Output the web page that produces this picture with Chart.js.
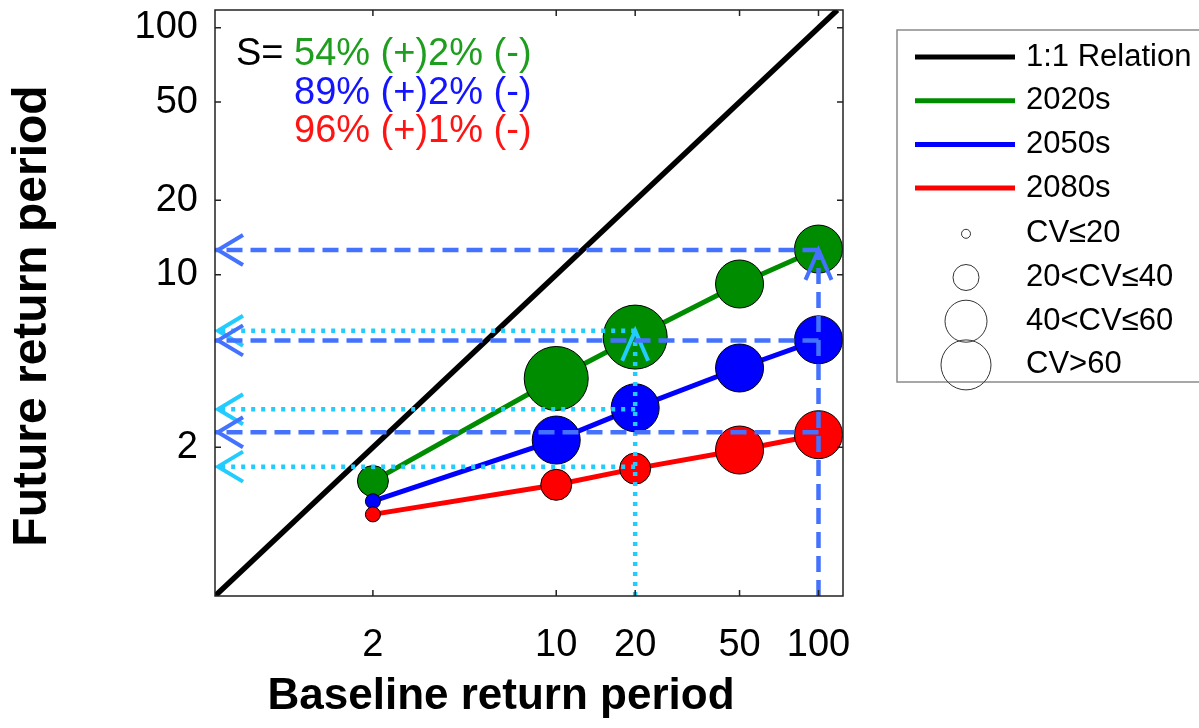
<!DOCTYPE html>
<html>
<head>
<meta charset="utf-8">
<script src="https://cdn.jsdelivr.net/npm/chart.js@4.4.1/dist/chart.umd.min.js"></script>
<style>
html, body { margin: 0; padding: 0; background: #fff; }
#wrap { width: 1199px; height: 728px; position: relative; }
</style>
</head>
<body>
<div id="wrap"><canvas id="rpChart" width="1199" height="728"></canvas></div>
<script>
// baseline return periods and future return periods per period
const baseline = [2, 10, 20, 50, 100];
const rp2020s = [1.46, 3.80, 5.59, 9.17, 12.7];
const rp2050s = [1.21, 2.14, 2.89, 4.19, 5.45];
const rp2080s = [1.07, 1.41, 1.64, 1.95, 2.25];

// CV class of each point: 0 = CV<=20, 1 = 20-40, 2 = 40-60, 3 = >60
const cv2020s = [1, 3, 3, 2, 2];
const cv2050s = [0, 2, 2, 2, 2];
const cv2080s = [0, 1, 1, 2, 2];

const oneToOne = [0.5, 118];

const guide20 = [5.93, 2.85, 1.67];
const guide100 = [12.6, 5.42, 2.30];

const tickVals = [0.6, 0.8, 1, 1.2, 1.4, 1.6, 1.8, 2, 4, 6, 8, 10, 20, 40, 50, 100];
const tickLabels = [2, 10, 20, 50, 100];

const sLabels = ['54% (+)2% (-)', '89% (+)2% (-)', '96% (+)1% (-)'];
const lineLabels = ['1:1 Relation', '2020s', '2050s', '2080s'];
const cvLabels = ['CV\u226420', '20<CV\u226440', '40<CV\u226460', 'CV>60'];

const FONT = '"Liberation Sans", Arial, sans-serif';
const colors = { one: '#000000', g: '#008c00', b: '#0000ff', r: '#ff0000' };
const textColors = ['#1e9e1e', '#1414ff', '#ff1414'];
const markerRadius = [7.5, 15.5, 24, 32];
const legendRadius = [4.5, 13, 21, 25];

function pts(ys) {
  return baseline.map((b, i) => ({ x: b, y: ys[i] }));
}

function seriesSet(label, ys, cv, color, order) {
  return {
    label: label,
    data: pts(ys),
    borderColor: color,
    backgroundColor: color,
    borderWidth: 5,
    pointRadius: ctx => markerRadius[cv[ctx.dataIndex]],
    pointBackgroundColor: color,
    pointBorderColor: '#000',
    pointBorderWidth: 1,
    order: order
  };
}

function drawGuide(ctx, xs, ys, area, xv, levels, color, dash) {
  const px = xs.getPixelForValue(xv);
  const tip = ys.getPixelForValue(levels[0]);
  ctx.save();
  ctx.strokeStyle = color;
  ctx.lineWidth = 4.5;
  ctx.setLineDash(dash);
  ctx.beginPath();
  ctx.moveTo(px, area.bottom);
  ctx.lineTo(px, tip);
  levels.forEach(v => {
    const py = ys.getPixelForValue(v);
    ctx.moveTo(px, py);
    ctx.lineTo(area.left, py);
  });
  ctx.stroke();
  ctx.setLineDash([]);
  ctx.lineWidth = 4;
  ctx.beginPath();
  ctx.moveTo(px - 13, tip + 30);
  ctx.lineTo(px, tip);
  ctx.lineTo(px + 13, tip + 30);
  levels.forEach(v => {
    const py = ys.getPixelForValue(v);
    ctx.moveTo(area.left + 28, py - 15);
    ctx.lineTo(area.left + 3, py);
    ctx.lineTo(area.left + 28, py + 15);
  });
  ctx.stroke();
  ctx.restore();
}

const guidePlugin = {
  id: 'guides',
  afterDatasetsDraw(chart) {
    const { ctx, chartArea, scales } = chart;
    drawGuide(ctx, scales.x, scales.y, chartArea, 20, guide20, '#22ccff', [4, 6]);
    drawGuide(ctx, scales.x, scales.y, chartArea, 100, guide100, '#4472ff', [16, 8]);
  }
};

const framePlugin = {
  id: 'frame',
  afterDraw(chart) {
    const { ctx, chartArea: a, scales } = chart;
    ctx.save();
    ctx.strokeStyle = '#222';
    ctx.lineWidth = 1.5;
    ctx.strokeRect(a.left, a.top, a.right - a.left, a.bottom - a.top);
    ctx.beginPath();
    scales.x.ticks.forEach(t => {
      const px = scales.x.getPixelForValue(t.value);
      ctx.moveTo(px, a.bottom); ctx.lineTo(px, a.bottom - 6);
      ctx.moveTo(px, a.top); ctx.lineTo(px, a.top + 6);
    });
    scales.y.ticks.forEach(t => {
      const py = scales.y.getPixelForValue(t.value);
      ctx.moveTo(a.left, py); ctx.lineTo(a.left + 6, py);
      ctx.moveTo(a.right, py); ctx.lineTo(a.right - 6, py);
    });
    ctx.stroke();

    // axis titles
    ctx.fillStyle = '#000';
    ctx.textBaseline = 'middle';
    ctx.textAlign = 'center';
    ctx.font = 'bold 44px ' + FONT;
    ctx.fillText('Baseline return period', 501, 697);
    ctx.save();
    ctx.translate(33, 316);
    ctx.rotate(-Math.PI / 2);
    ctx.font = 'bold 48px ' + FONT;
    ctx.fillText('Future return period', 0, 0);
    ctx.restore();

    // S= annotation
    ctx.textAlign = 'left';
    ctx.font = '38px ' + FONT;
    ctx.fillText('S=', a.left + 21, 55);
    sLabels.forEach((s, i) => {
      ctx.fillStyle = textColors[i];
      ctx.fillText(s, a.left + 79, 55 + i * 38.5);
    });

    // legend
    const lx = 897, ly = 30, rowH = 43.7;
    ctx.strokeStyle = '#8a8a8a';
    ctx.lineWidth = 1.5;
    ctx.strokeRect(lx, ly, 340, 352);
    ctx.font = '31px ' + FONT;
    const lineCols = [colors.one, colors.g, colors.b, colors.r];
    lineLabels.forEach((l, i) => {
      const yy = ly + 27 + i * rowH;
      ctx.strokeStyle = lineCols[i];
      ctx.lineWidth = 5;
      ctx.beginPath();
      ctx.moveTo(915, yy); ctx.lineTo(1015, yy);
      ctx.stroke();
      ctx.fillStyle = '#000';
      ctx.fillText(l, 1026, yy);
    });
    cvLabels.forEach((l, i) => {
      const yy = ly + 27 + (i + 4) * rowH + 2;
      ctx.strokeStyle = '#333';
      ctx.lineWidth = 1;
      ctx.beginPath();
      ctx.arc(966, yy, legendRadius[i], 0, Math.PI * 2);
      ctx.stroke();
      ctx.fillStyle = '#000';
      ctx.fillText(l, 1026, yy);
    });
    ctx.restore();
  }
};

const tickFont = { family: FONT, size: 38 };
const tickText = v => tickLabels.includes(v) ? String(v) : null;

new Chart(document.getElementById('rpChart'), {
  type: 'line',
  data: {
    datasets: [
      {
        label: '1:1 Relation',
        data: oneToOne.map(v => ({ x: v, y: v })),
        borderColor: colors.one,
        borderWidth: 5.5,
        pointRadius: 0,
        order: 3
      },
      seriesSet('2020s', rp2020s, cv2020s, colors.g, 2),
      seriesSet('2050s', rp2050s, cv2050s, colors.b, 1),
      seriesSet('2080s', rp2080s, cv2080s, colors.r, 0)
    ]
  },
  options: {
    responsive: false,
    animation: false,
    events: [],
    layout: { autoPadding: false, padding: { left: 0, right: 356, top: 10, bottom: 0 } },
    plugins: { legend: { display: false }, tooltip: { enabled: false } },
    scales: {
      x: {
        type: 'logarithmic',
        min: 0.5,
        max: 124,
        afterBuildTicks: axis => { axis.ticks = tickVals.map(v => ({ value: v })); },
        afterFit: axis => {
          axis.height = 132;
          axis.paddingLeft = 0; axis.paddingRight = 0;
        },
        grid: { display: false, drawTicks: false },
        border: { display: false },
        ticks: {
          autoSkip: false, maxRotation: 0, padding: 27, color: '#000', font: tickFont,
          callback: tickText
        }
      },
      y: {
        type: 'logarithmic',
        min: 0.5,
        max: 118,
        afterBuildTicks: axis => {
          axis.ticks = tickVals.map(v => ({ value: v })).concat([{ value: axis.max }]);
        },
        afterFit: axis => {
          axis.width = 215;
          axis.paddingTop = 0; axis.paddingBottom = 0;
        },
        grid: { display: false, drawTicks: false },
        border: { display: false },
        ticks: {
          autoSkip: false, padding: 17, color: '#000', font: tickFont,
          callback: tickText
        }
      }
    }
  },
  plugins: [guidePlugin, framePlugin]
});
</script>
</body>
</html>
